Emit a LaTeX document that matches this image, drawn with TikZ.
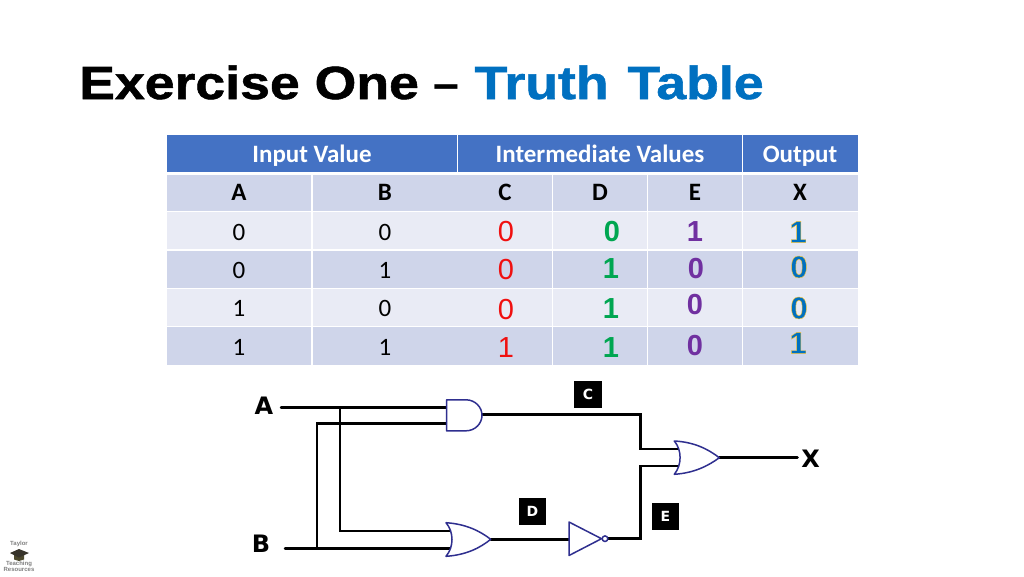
\documentclass[tikz,border=0pt]{standalone}
\usepackage{fontspec}
\setmainfont{Carlito}
\newfontfamily\arialf{Liberation Sans}
\newfontfamily\titlef[FakeStretch=1.153,FakeBold=1.2]{Liberation Sans}
\newfontfamily\djv{DejaVu Sans}
\definecolor{hdr}{HTML}{4472C4}
\definecolor{bandD}{HTML}{CFD5EA}
\definecolor{bandL}{HTML}{E9EBF5}
\definecolor{titleblue}{HTML}{0070C0}
\definecolor{gatec}{HTML}{2F2F8F}
\definecolor{cgreen}{HTML}{00A651}
\definecolor{cpurple}{HTML}{7030A0}
\definecolor{cred}{HTML}{F01010}
\newcommand{\outl}[1]{\special{pdf:code q 2 Tr 0.45 w 1 0.78 0.2 RG}#1\special{pdf:code Q}}
\tikzset{
 x=1pt,y=-1pt,
 cell/.style={anchor=north west,inner sep=0,outer sep=0,minimum width=#1},
 hcell/.style={cell=#1,fill=hdr,minimum height=36.5pt},
 dcell/.style={cell=#1,fill=bandD},
 lcell/.style={cell=#1,fill=bandL},
 htext/.style={anchor=base,font=\fontsize{25}{25}\selectfont\bfseries,text=white,inner sep=0},
 ttext/.style={font=\fontsize{25}{25}\selectfont,text=black,inner sep=0},
 btext/.style={anchor=base,font=\fontsize{25}{25}\selectfont\bfseries,text=black,inner sep=0},
 cdig/.style={font=\arialf\fontsize{29}{29}\selectfont,text=cred,inner sep=0},
 ddig/.style={font=\arialf\fontsize{29}{29}\selectfont\bfseries,text=cgreen,inner sep=0},
 edig/.style={font=\arialf\fontsize{29}{29}\selectfont\bfseries,text=cpurple,inner sep=0},
 xdig/.style={font=\arialf\fontsize{31}{31}\selectfont\bfseries,text=titleblue,inner sep=0},
 wire/.style={line width=2.5pt,black,line cap=round,line join=miter},
 gate/.style={line width=1.5pt,gatec,fill=white,line join=round},
 tag/.style={fill=black,text=white,minimum width=27.5pt,minimum height=27pt,inner sep=0,font=\djv\bfseries\fontsize{14}{14}\selectfont},
 sig/.style={inner sep=0,font=\djv\bfseries\fontsize{24}{24}\selectfont,text=black},
 logot/.style={inner sep=0,text=black!50,font=\arialf\bfseries\fontsize{6}{6}\selectfont},
}
\begin{document}
\begin{tikzpicture}
\useasboundingbox (0,0) rectangle (1024,576);
\fill[white] (0,0) rectangle (1024,576);
% title
\node[anchor=base west,inner sep=0,font=\titlef\bfseries\fontsize{46.5}{46.5}\selectfont] (title) at (79,99) {Exercise One {\arialf –} \textcolor{titleblue}{Truth\hspace{4pt} Table}};
% table header
\node[hcell=290pt] (h1) at (167,135) {};
\node[hcell=284pt] (h2) at (458,135) {};
\node[hcell=114.5pt] (h3) at (743,135) {};
\node[htext] (ht1) at (312,162) {Input Value};
\node[htext] (ht2) at (600,162) {Intermediate Values};
\node[htext] (ht3) at (800,162) {Output};
% rows
\foreach \yy/\st/\hh/\rn in {175/dcell/36/r0,212/lcell/37.3/r1,250.5/dcell/37.3/r2,289/lcell/37.3/r3,327.3/dcell/37.3/r4}{
 \node[\st=144pt,minimum height=\hh pt] (\rn a) at (167,\yy) {};
 \node[\st=144.5pt,minimum height=\hh pt] (\rn b) at (313,\yy) {};
 \node[\st=93.5pt,minimum height=\hh pt] (\rn c) at (458,\yy) {};
 \node[\st=93.5pt,minimum height=\hh pt] (\rn d) at (553,\yy) {};
 \node[\st=93.5pt,minimum height=\hh pt] (\rn e) at (648,\yy) {};
 \node[\st=114.5pt,minimum height=\hh pt] (\rn x) at (743,\yy) {};
}
\node[btext] (la) at (239,200.7) {A};
\node[btext] (lb) at (385,200.7) {B};
\node[btext] (lc) at (505,200.7) {C};
\node[btext] (ld) at (600,200.7) {D};
\node[btext] (le) at (695,200.7) {E};
\node[btext] (lx) at (800,200.7) {X};
\node[ttext] (a1) at (239,232) {0};
\node[ttext] (b1) at (385,232) {0};
\node[ttext] (a2) at (239,270) {0};
\node[ttext] (b2) at (385,270) {1};
\node[ttext] (a3) at (239,308) {1};
\node[ttext] (b3) at (385,308) {0};
\node[ttext] (a4) at (239,347) {1};
\node[ttext] (b4) at (385,347) {1};
\node[cdig] (c1) at (506,232) {0};
\node[cdig] (c2) at (506,270) {0};
\node[cdig] (c3) at (506,310) {0};
\node[cdig] (c4) at (506,348) {1};
\node[ddig] (d1) at (612,232) {0};
\node[ddig] (d2) at (611,269) {1};
\node[ddig] (d3) at (611,309) {1};
\node[ddig] (d4) at (611,348) {1};
\node[edig] (e1) at (695,232) {1};
\node[edig] (e2) at (696,269) {0};
\node[edig] (e3) at (695,305) {0};
\node[edig] (e4) at (695,346) {0};
\node[xdig] (x1) at (798,232) {\outl{1}};
\node[xdig] (x2) at (799,267) {\outl{0}};
\node[xdig] (x3) at (799,308) {\outl{0}};
\node[xdig] (x4) at (798,343) {\outl{1}};
% circuit labels
\node[sig] (A) at (264,405.5) {A};
\node[sig] (B) at (261,544) {B};
\node[sig] (X) at (810.5,459) {X};
\node[tag] (C) at (588,394.5) {C};
\node[tag] (D) at (532.5,511.5) {D};
\node[tag] (E) at (665.5,516.5) {E};
% pins
\coordinate (As) at (281,407.3);
\coordinate (Bs) at (285,548.7);
\coordinate (Aj) at (340,407.3);
\coordinate (Bj) at (317,548.7);
\coordinate (and1) at (447,407.3);
\coordinate (and2) at (447,423.3);
\coordinate (andO) at (482,414.6);
\coordinate (or1a) at (450,531);
\coordinate (or1b) at (452,548.7);
\coordinate (or1O) at (490.7,539.3);
\coordinate (invI) at (569,539.3);
\coordinate (invO) at (607.8,538.7);
\coordinate (or2a) at (679,449);
\coordinate (or2b) at (679,466);
\coordinate (or2O) at (719.3,457.7);
\coordinate (Xe) at (797.5,457.7);
\coordinate (turnB) at (317,423.3);
\coordinate (turnA) at (340,531);
\coordinate (turnC1) at (640.7,414.6);
\coordinate (turnC2) at (640.7,449);
\coordinate (turnE1) at (640.7,538.7);
\coordinate (turnE2) at (640.7,466);
% wires
\draw[wire] (As) -- (and1);
\draw[wire] (Bs) -- (or1b);
\draw[wire] (Bj) -- (turnB) -- (and2);
\draw[wire] (Aj) -- (turnA) -- (or1a);
\draw[wire] (andO) -- (turnC1) -- (turnC2) -- (or2a);
\draw[wire] (or1O) -- (invI);
\draw[wire] (invO) -- (turnE1) -- (turnE2) -- (or2b);
\draw[wire] (or2O) -- (Xe);
% gates
\draw[gate] (446.5,399.8) -- (466,399.8) .. controls (475,399.8) and (482,407) .. (482,415.3)
  .. controls (482,423.6) and (475,430.8) .. (466,430.8) -- (446.5,430.8) -- cycle;
\draw[gate] (446,522.7) .. controls (466,524) and (480,531) .. (490.7,539.3)
  .. controls (480,548) and (466,555) .. (446,556.3)
  .. controls (454,547) and (454,532) .. cycle;
\draw[gate] (569,522) -- (601.5,538.7) -- (569,555.5) -- cycle;
\draw[gate] (605,538.7) circle[radius=2.8];
\draw[gate] (674.3,441) .. controls (694,442) and (708,449) .. (719.3,457.7)
  .. controls (708,466) and (694,473) .. (674.3,474.3)
  .. controls (682,465) and (682,450) .. cycle;
% logo
\fill[black!60!olive] (14,555) -- (24,555) -- (24,559.5) -- (19,561) -- (14,559.5) -- cycle;
\fill[black!80!olive] (10,553) -- (19,549) -- (29,553) -- (19,557.5) -- cycle;
\node[logot] (lg1) at (19,543.5) {Taylor};
\node[logot] (lg2) at (19,563.5) {Teaching};
\node[logot] (lg3) at (19,569.5) {Resources};
\end{tikzpicture}
\end{document}
